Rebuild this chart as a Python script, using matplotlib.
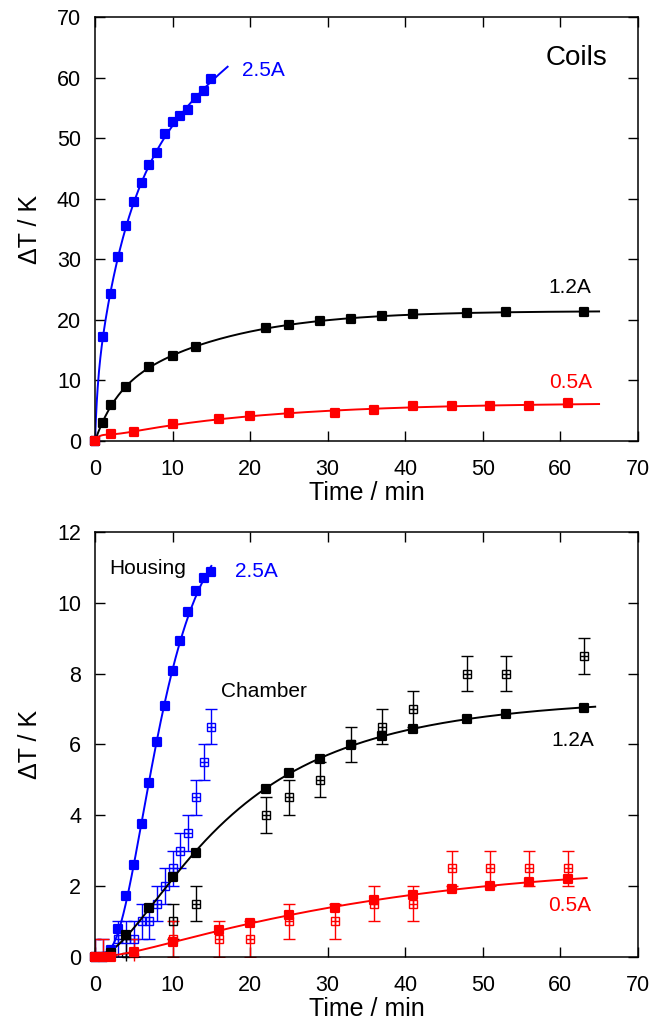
import numpy as np
import matplotlib.pyplot as plt
from matplotlib.markers import MarkerStyle

plt.rcParams['font.family'] = ['Liberation Sans', 'DejaVu Sans']

# --- Coils (top panel) ---
coil_t_25 = [0, 1, 2, 3, 4, 5, 6, 7, 8, 9, 10, 11, 12, 13, 14, 15]
coil_T_25 = [0, 17.2, 24.3, 30.3, 35.5, 39.5, 42.6, 45.6, 47.6, 50.7, 52.6, 53.7, 54.7, 56.7, 57.8, 59.8]
coil_t_12 = [0, 1, 2, 4, 7, 10, 13, 22, 25, 29, 33, 37, 41, 48, 53, 63]
coil_T_12 = [0, 3.0, 5.9, 8.9, 12.2, 14.1, 15.6, 18.6, 19.2, 19.85, 20.2, 20.7, 20.9, 21.1, 21.3, 21.3]
coil_t_05 = [0, 2, 5, 10, 16, 20, 25, 31, 36, 41, 46, 51, 56, 61]
coil_T_05 = [0, 1.1, 1.5, 2.75, 3.6, 4.2, 4.6, 4.7, 5.2, 5.8, 5.8, 5.8, 5.8, 6.3]

# --- Housing (bottom panel, filled) ---
hous_t_25 = [0, 1, 2, 3, 4, 5, 6, 7, 8, 9, 10, 11, 12, 13, 14, 15]
hous_T_25 = [0, 0, 0.19, 0.77, 1.71, 2.59, 3.75, 4.9, 6.06, 7.09, 8.08, 8.92, 9.75, 10.34, 10.69, 10.88]
hous_t_12 = [0, 1, 2, 4, 7, 10, 13, 22, 25, 29, 33, 37, 41, 48, 53, 63]
hous_T_12 = [0, 0, 0.1, 0.6, 1.38, 2.24, 2.93, 4.73, 5.2, 5.58, 5.98, 6.23, 6.43, 6.73, 6.85, 7.03]
hous_t_05 = [0, 1, 2, 5, 10, 16, 20, 25, 31, 36, 41, 46, 51, 56, 61]
hous_T_05 = [0, 0, 0, 0.14, 0.42, 0.75, 0.94, 1.18, 1.39, 1.6, 1.74, 1.9, 2.01, 2.1, 2.19]

# --- Chamber (bottom panel, open with error bars) ---
cham_t_25 = [0, 1, 3, 4, 5, 6, 7, 8, 9, 10, 11, 12, 13, 14, 15]
cham_T_25 = [0, 0, 0.5, 0.5, 0.5, 1.0, 1.0, 1.5, 2.0, 2.5, 3.0, 3.5, 4.5, 5.5, 6.5]
cham_t_12 = [4, 10, 13, 22, 25, 29, 33, 37, 41, 48, 53, 63]
cham_T_12 = [0, 1.0, 1.5, 4.0, 4.5, 5.0, 6.0, 6.5, 7.0, 8.0, 8.0, 8.5]
cham_t_05 = [0, 1, 5, 10, 16, 20, 25, 31, 36, 41, 46, 51, 56, 61]
cham_T_05 = [0, 0, 0, 0.5, 0.5, 0.5, 1.0, 1.0, 1.5, 1.5, 2.5, 2.5, 2.5, 2.5]
cham_err = 0.5


def fit_curve(t, T, t_end):
    # sum of three exponential rises, least squares, passes through origin,
    # only curves that never go down are accepted
    t = np.asarray(t, float)
    T = np.asarray(T, float)
    tt = np.linspace(0, t_end, 300)
    taus = np.logspace(-0.5, 2.5, 26)
    best = None
    n = len(taus)
    for i in range(n):
        for j in range(i + 1, n):
            for k in range(j + 1, n):
                tau = taus[[i, j, k]]
                M = 1 - np.exp(-t[:, None] / tau[None, :])
                coef = np.linalg.lstsq(M, T, rcond=None)[0]
                err = np.sum((M @ coef - T) ** 2)
                if best is not None and err >= best[0]:
                    continue
                yy = (1 - np.exp(-tt[:, None] / tau[None, :])) @ coef
                if np.any(np.diff(yy) < -1e-4):
                    continue
                best = (err, yy)
    return tt, best[1]


def style_axes(ax, ymax, ystep):
    ax.set_xlim(0, 70)
    ax.set_ylim(0, ymax)
    ax.set_xticks(np.arange(0, 71, 10))
    ax.set_yticks(np.arange(0, ymax + 0.1, ystep))
    ax.tick_params(direction='in', length=7, width=1, top=True, right=True,
                   labelsize=15.5)
    ax.tick_params(axis='x', pad=13)
    ax.tick_params(axis='y', pad=10)
    for s in ax.spines.values():
        s.set_linewidth(1.1)
    ax.set_xlabel('Time / min', fontsize=18, labelpad=1)
    ax.set_ylabel('ΔT / K', fontsize=18, labelpad=11)


sq = MarkerStyle('s', joinstyle='round')

fig = plt.figure(figsize=(6.7, 10.24), dpi=100)

# top panel
ax1 = fig.add_axes([0.1418, 0.5693, 0.8102, 0.4141])
for t, T, c, end in [(coil_t_25, coil_T_25, 'blue', 17.1),
                     (coil_t_12, coil_T_12, 'black', 65),
                     (coil_t_05, coil_T_05, 'red', 65)]:
    tt, yy = fit_curve(t, T, end)
    ax1.plot(tt, yy, color=c, lw=1.4)
    ax1.plot(t, T, marker=sq, ls='none', color=c, ms=5.5, mew=1.6,
             clip_on=False, zorder=3)
style_axes(ax1, 70, 10)
ax1.text(18.9, 61.2, '2.5A', color='blue', fontsize=15, ha='left', va='center')
ax1.text(61.2, 25.4, '1.2A', color='black', fontsize=15, ha='center', va='center')
ax1.text(61.3, 9.7, '0.5A', color='red', fontsize=15, ha='center', va='center')
ax1.text(62.1, 63.2, 'Coils', fontsize=20, ha='center', va='center')

# bottom panel
ax2 = fig.add_axes([0.1418, 0.0657, 0.8102, 0.4148])
for t, T, c in [(cham_t_25, cham_T_25, 'blue'),
                (cham_t_12, cham_T_12, 'black'),
                (cham_t_05, cham_T_05, 'red')]:
    ax2.errorbar(t, T, yerr=cham_err, fmt='s', color=c, mfc='none', ms=6,
                 mew=1, elinewidth=1, capsize=4.3, capthick=1, zorder=2)
    ax2.plot(t, T, '+', color=c, ms=6, mew=1, clip_on=False, zorder=2)
for t, T, c, end in [(hous_t_25, hous_T_25, 'blue', 15),
                     (hous_t_12, hous_T_12, 'black', 64.5),
                     (hous_t_05, hous_T_05, 'red', 63.4)]:
    tt, yy = fit_curve(t, T, end)
    ax2.plot(tt, yy, color=c, lw=1.4, zorder=3)
    ax2.plot(t, T, marker=sq, ls='none', color=c, ms=5.5, mew=1.6,
             clip_on=False, zorder=4)
style_axes(ax2, 12, 2)
ax2.text(1.85, 10.98, 'Housing', fontsize=15, ha='left', va='center')
ax2.text(18.0, 10.87, '2.5A', color='blue', fontsize=15, ha='left', va='center')
ax2.text(16.3, 7.48, 'Chamber', fontsize=15, ha='left', va='center')
ax2.text(61.6, 6.12, '1.2A', color='black', fontsize=15, ha='center', va='center')
ax2.text(61.2, 1.46, '0.5A', color='red', fontsize=15, ha='center', va='center')

fig.savefig('out.png', dpi=100)
